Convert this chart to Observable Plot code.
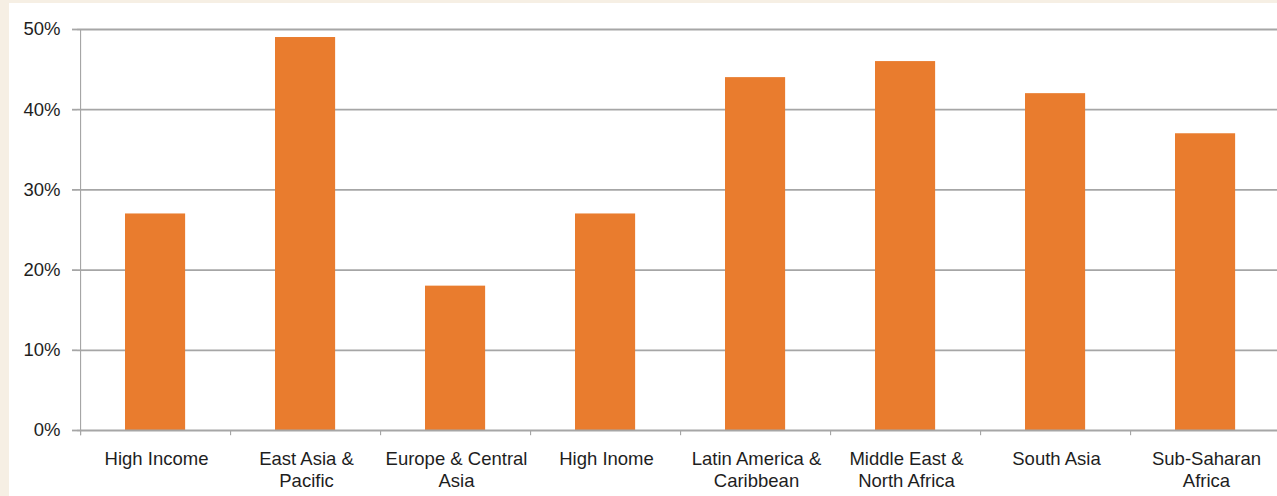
<!DOCTYPE html>
<html><head><meta charset="utf-8">
<script src="https://cdn.jsdelivr.net/npm/d3@7"></script>
<script src="https://cdn.jsdelivr.net/npm/@observablehq/plot@0.6"></script>
<style>
html,body{margin:0;padding:0;background:#f6efe4;overflow:hidden;width:1277px;height:496px}
#panel{position:absolute;left:9px;top:3px;width:1268px;height:493px;background:#fff;overflow:hidden}
#panel svg{max-width:none !important;height:493px !important}
</style></head><body><div id="panel"></div>
<script>
const categories = ["High Income", "East Asia & Pacific", "Europe & Central Asia", "High Inome", "Latin America & Caribbean", "Middle East & North Africa", "South Asia", "Sub-Saharan Africa"];
const labels = ["High Income", "East Asia &\nPacific", "Europe & Central\nAsia", "High Inome", "Latin America &\nCaribbean", "Middle East &\nNorth Africa", "South Asia", "Sub-Saharan\nAfrica"];
const values = [27, 49, 18, 27, 44, 46, 42, 37];
const yTicks = [0, 10, 20, 30, 40, 50];

const data = categories.map((c, i) => ({cat: c, value: values[i], label: labels[i]}));

const W = 1276, mL = 68, mR = 1;
const bw = (W - mL - mR) / categories.length;
const gray = "#a6a6a6";
const textColor = "#1e1e1e";

const chart = Plot.plot({
  width: W,
  height: 493,
  marginLeft: mL,
  marginRight: mR,
  marginTop: 26,
  marginBottom: 66,
  x: {domain: categories, padding: 0, axis: null},
  y: {domain: [0, 50], axis: null},
  style: {fontFamily: "'Liberation Sans', Arial, sans-serif", fontSize: "18.5px", background: "transparent", overflow: "visible", color: textColor},
  marks: [
    Plot.ruleY(yTicks.slice(1), {y: d => d, stroke: gray, strokeWidth: 1.8}),
    Plot.barY(data, {x: "cat", y: "value", fill: "#e97c2e", insetLeft: 44, insetRight: bw - 105}),
    Plot.ruleY([0], {y: d => d, stroke: gray, strokeWidth: 1.8}),
    Plot.barY(categories, {x: d => d, y1: -0.65, y2: 0, fill: gray, dx: -1, insetLeft: 0, insetRight: bw - 2}),
    Plot.barY([categories[0]], {x: d => d, y1: -0.65, y2: 50, fill: gray, dx: -1, insetLeft: 0, insetRight: bw - 2}),
    Plot.axisY({ticks: yTicks, tickFormat: d => d + "%", label: null, tickSize: 5, tickPadding: 12, stroke: gray, strokeWidth: 1.8, fontSize: 18.5, fill: textColor}),
    Plot.text(data, {x: "cat", text: "label", frameAnchor: "bottom", lineAnchor: "top", dy: 19, lineHeight: 1.2, fontSize: 18.5, fill: textColor})
  ]
});
document.getElementById("panel").appendChild(chart);
</script>
</body></html>
